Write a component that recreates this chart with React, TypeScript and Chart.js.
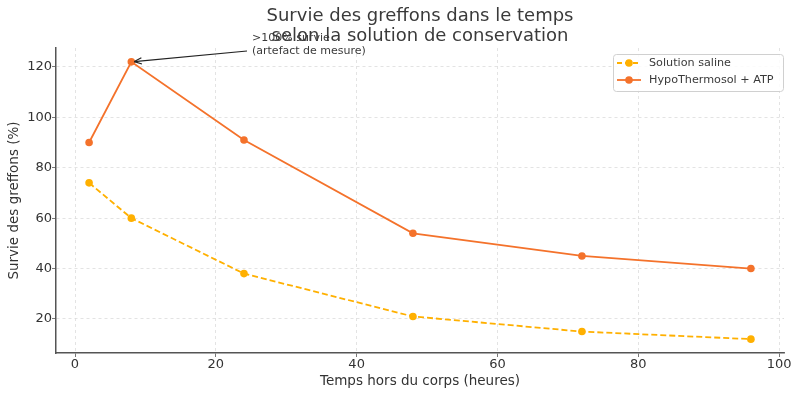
import React, { useEffect, useRef } from "react";
import { Chart, registerables } from "chart.js";

Chart.register(...registerables);

const hours = [2, 8, 24, 48, 72, 96];
const salineValues = [74, 60, 38, 21, 15, 12];
const hypoValues = [90, 122, 91, 54, 45, 40];
const xTicks = [0, 20, 40, 60, 80, 100];
const yTicks = [20, 40, 60, 80, 100, 120];
const titleLines = ["Survie des greffons dans le temps", "selon la solution de conservation"];
const annotationLines = [">100% survie", "(artefact de mesure)"];
const annotatedIndex = 1;
const seriesNames = ["Solution saline", "HypoThermosol + ATP"];

const SALINE = "#FFB000";
const HYPO = "#F4722B";
const FONT = "'DejaVu Sans', sans-serif";

const overlayPlugin = {
  id: "overlay",
  afterDraw(chart: any) {
    const ctx = chart.ctx;
    const area = chart.chartArea;
    const xs = chart.scales.x;
    const ys = chart.scales.y;
    ctx.save();
    // title
    ctx.fillStyle = "#3a3a3a";
    ctx.font = `18px ${FONT}`;
    ctx.textAlign = "center";
    ctx.textBaseline = "middle";
    const cx = (area.left + area.right) / 2;
    ctx.fillText(titleLines[0], cx, 16);
    ctx.fillText(titleLines[1], cx, 36);

    // annotation
    const px = xs.getPixelForValue(hours[annotatedIndex]);
    const py = ys.getPixelForValue(hypoValues[annotatedIndex]);
    ctx.font = `11px ${FONT}`;
    ctx.textAlign = "left";
    ctx.fillStyle = "#3a3a3a";
    ctx.fillText(annotationLines[0], 252, 38);
    ctx.fillText(annotationLines[1], 252, 51);
    const sx = 247, sy = 51;
    ctx.strokeStyle = "#222";
    ctx.lineWidth = 1.2;
    ctx.beginPath();
    ctx.moveTo(sx, sy);
    const ang = Math.atan2(py - sy, px - sx);
    const ex = px - Math.cos(ang) * 3;
    const ey = py - Math.sin(ang) * 3;
    ctx.lineTo(ex, ey);
    ctx.stroke();
    ctx.beginPath();
    ctx.moveTo(ex, ey);
    ctx.lineTo(ex - Math.cos(ang - 0.4) * 8, ey - Math.sin(ang - 0.4) * 8);
    ctx.moveTo(ex, ey);
    ctx.lineTo(ex - Math.cos(ang + 0.4) * 8, ey - Math.sin(ang + 0.4) * 8);
    ctx.stroke();

    // legend
    const lx = 613, ly = 54, lw = 170, lh = 37;
    ctx.fillStyle = "rgba(255,255,255,0.85)";
    ctx.strokeStyle = "#d0d0d0";
    ctx.lineWidth = 1;
    ctx.beginPath();
    (ctx as any).roundRect(lx + 0.5, ly + 0.5, lw, lh, 3);
    ctx.fill();
    ctx.stroke();
    const rows = [
      { name: seriesNames[0], color: SALINE, dash: [5, 3], y: 63 },
      { name: seriesNames[1], color: HYPO, dash: [], y: 80 },
    ];
    ctx.font = `11.2px ${FONT}`;
    ctx.textBaseline = "middle";
    for (const r of rows) {
      ctx.strokeStyle = r.color;
      ctx.lineWidth = 1.8;
      ctx.setLineDash(r.dash);
      ctx.beginPath();
      ctx.moveTo(617, r.y);
      ctx.lineTo(641, r.y);
      ctx.stroke();
      ctx.setLineDash([]);
      ctx.fillStyle = r.color;
      ctx.beginPath();
      ctx.arc(629, r.y, 3.8, 0, Math.PI * 2);
      ctx.fill();
      ctx.fillStyle = "#3a3a3a";
      ctx.fillText(r.name, 649, r.y);
    }
    ctx.restore();
  },
};

export default function App() {
  const ref = useRef<HTMLCanvasElement>(null);
  useEffect(() => {
    if (!ref.current) return;
    const chart = new Chart(ref.current, {
      type: "line",
      data: {
        datasets: [
          {
            label: seriesNames[0],
            data: hours.map((h, i) => ({ x: h, y: salineValues[i] })),
            borderColor: SALINE,
            backgroundColor: SALINE,
            borderDash: [6, 3],
            borderWidth: 1.8,
            pointRadius: 3.8,
            pointBorderWidth: 0,
            tension: 0,
          },
          {
            label: seriesNames[1],
            data: hours.map((h, i) => ({ x: h, y: hypoValues[i] })),
            borderColor: HYPO,
            backgroundColor: HYPO,
            borderWidth: 1.8,
            pointRadius: 3.8,
            pointBorderWidth: 0,
            tension: 0,
          },
        ],
      },
      options: {
        animation: false,
        responsive: false,
        layout: { padding: { left: 0, top: 48, right: 16, bottom: 0 } },
        plugins: { legend: { display: false }, title: { display: false }, tooltip: { enabled: false } },
        scales: {
          x: {
            type: "linear",
            min: -2.7,
            max: 100.7,
            afterBuildTicks: (s: any) => { s.ticks = xTicks.map((v) => ({ value: v })); },
            afterFit: (s: any) => { s.height = 43; },
            ticks: { color: "#333", font: { family: FONT, size: 13 }, padding: 0 },
            grid: { color: "#dcdcdc", tickLength: 4, tickColor: "#555", lineWidth: 0.8 },
            border: { display: true, color: "#555", width: 1.5, dash: [3, 3] },
            title: { display: true, text: "Temps hors du corps (heures)", color: "#333", font: { family: FONT, size: 13.5 }, padding: { top: 2, bottom: 6 } },
          },
          y: {
            type: "linear",
            min: 6.5,
            max: 127.5,
            afterBuildTicks: (s: any) => { s.ticks = yTicks.map((v) => ({ value: v })); },
            afterFit: (s: any) => { s.width = 56; },
            ticks: { color: "#333", font: { family: FONT, size: 13 }, padding: 0 },
            grid: { color: "#dcdcdc", tickLength: 4, tickColor: "#555", lineWidth: 0.8 },
            border: { display: true, color: "#555", width: 1.5, dash: [3, 3] },
            title: { display: true, text: "Survie des greffons (%)", color: "#333", font: { family: FONT, size: 13.5 }, padding: { top: 6, bottom: 4 } },
          },
        },
      },
      plugins: [overlayPlugin],
    } as any);
    return () => chart.destroy();
  }, []);
  return (
    <div style={{ position: "absolute", left: 0, top: 0, width: 800, height: 396, background: "#fff" }}>
      <canvas ref={ref} width={800} height={396} style={{ width: 800, height: 396 }} />
    </div>
  );
}
